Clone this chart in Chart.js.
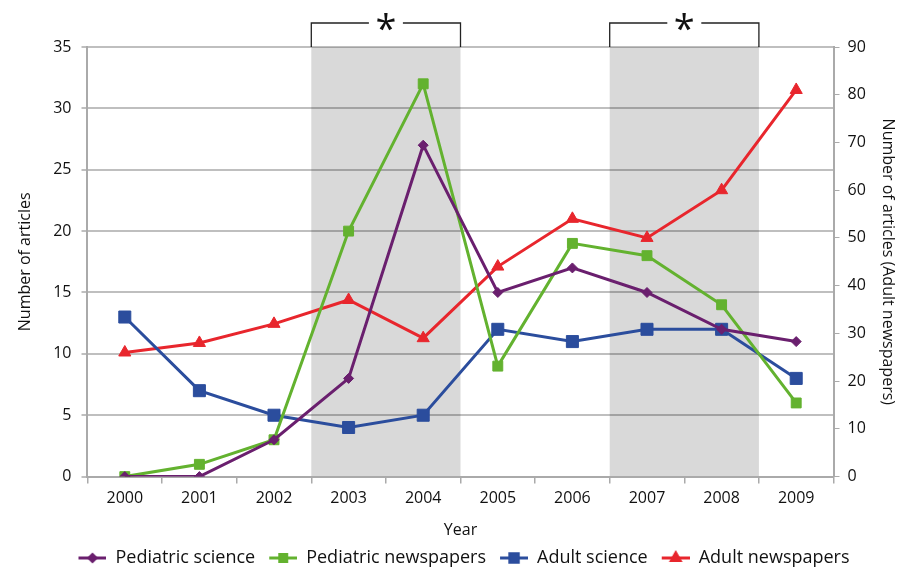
<!DOCTYPE html>
<html>
<head>
<meta charset="utf-8">
<script src="https://cdn.jsdelivr.net/npm/chart.js@4.4.0/dist/chart.umd.min.js"></script>
<style>
  body { margin: 0; background: #fff; }
  #wrap { width: 912px; height: 567px; }
</style>
</head>
<body>
<div id="wrap"><canvas id="myChart"></canvas></div>
<script>
const years = ["2000","2001","2002","2003","2004","2005","2006","2007","2008","2009"];
const pedScience = [0,0,3,8,27,15,17,15,12,11];
const pedNews = [0,1,3,20,32,9,19,18,14,6];
const adultScience = [13,7,5,4,5,12,11,12,12,8];
const adultNews = [26,28,32,37,29,44,54,50,60,81];
// shaded year ranges marked with *
const sigRanges = [["2003","2004"],["2007","2008"]];

const FONT = "'Open Sans', 'DejaVu Sans', sans-serif";

// legend icon: line with marker, some empty room on the left as spacing
const legendIcon = (color, style, r) => {
    const c = document.createElement("canvas");
    c.width = 39; c.height = 16;
    const ctx = c.getContext("2d");
    ctx.strokeStyle = color; ctx.fillStyle = color; ctx.lineWidth = 3;
    ctx.beginPath(); ctx.moveTo(11, 8); ctx.lineTo(39, 8); ctx.stroke();
    Chart.helpers.drawPoint(ctx, {pointStyle: style, radius: r, rotation: 0, borderWidth: 1}, 25, 8);
    ctx.fill();
    return c;
};

const shadePlugin = {
    id: "shade",
    beforeDraw(chart) {
        const {ctx, chartArea, scales: {x}} = chart;
        const half = (x.getPixelForValue(1) - x.getPixelForValue(0)) / 2;
        ctx.save();
        sigRanges.forEach(([a, b]) => {
            const x0 = x.getPixelForValue(years.indexOf(a)) - half;
            const x1 = x.getPixelForValue(years.indexOf(b)) + half;
            ctx.fillStyle = "#d9d9d9";
            ctx.fillRect(x0, chartArea.top, x1 - x0, chartArea.bottom - chartArea.top);
            // bracket above
            const top = chartArea.top - 24, mid = (x0 + x1) / 2;
            ctx.strokeStyle = "#222"; ctx.lineWidth = 1.3;
            ctx.beginPath();
            ctx.moveTo(x0, chartArea.top); ctx.lineTo(x0, top); ctx.lineTo(mid - 17, top);
            ctx.moveTo(mid + 17, top); ctx.lineTo(x1, top); ctx.lineTo(x1, chartArea.top);
            ctx.stroke();
            ctx.fillStyle = "#111";
            ctx.font = "38px " + FONT;
            ctx.textAlign = "center"; ctx.textBaseline = "middle";
            ctx.fillText("*", mid, top + 8);
        });
        ctx.restore();
    }
};

const series = [
    {label: "Pediatric science", data: pedScience, color: "#6a1f6e", style: "rectRot", r: 5, axis: "y"},
    {label: "Pediatric newspapers", data: pedNews, color: "#63b22f", style: "rect", r: 7, axis: "y"},
    {label: "Adult science", data: adultScience, color: "#2b4d9d", style: "rect", r: 8.5, axis: "y"},
    {label: "Adult newspapers", data: adultNews, color: "#e8262d", style: "triangle", r: 7, axis: "y2"}
];

new Chart("myChart", {
    type: "line",
    data: {
        labels: years,
        datasets: series.map(s => ({
            label: s.label,
            data: s.data,
            yAxisID: s.axis,
            borderColor: s.color,
            backgroundColor: s.color,
            borderWidth: 3,
            tension: 0,
            pointStyle: s.style,
            pointRadius: s.r,
            pointBorderWidth: 1,
            icon: legendIcon(s.color, s.style, s.r * 0.7)
        }))
    },
    options: {
        responsive: true,
        maintainAspectRatio: false,
        animation: false,
        layout: {padding: {top: 47, left: 12, right: 7, bottom: -10}},
        plugins: {
            tooltip: {enabled: false},
            legend: {
                position: "bottom",
                labels: {
                    usePointStyle: true,
                    pointStyleWidth: 39,
                    boxHeight: 16,
                    padding: 3,
                    color: "#111",
                    font: {family: FONT, size: 18},
                    generateLabels: chart => chart.data.datasets.map((d, i) => ({
                        text: d.label, pointStyle: d.icon, datasetIndex: i,
                        fillStyle: d.borderColor, strokeStyle: d.borderColor, lineWidth: 0, fontColor: "#111"
                    }))
                }
            }
        },
        scales: {
            x: {
                offset: true,
                grid: {drawOnChartArea: false, offset: true, tickLength: 7, color: "#aaa", lineWidth: 1.5},
                border: {color: "#aaa", width: 2},
                ticks: {color: "#111", font: {family: FONT, size: 16}, padding: 5},
                title: {display: true, text: "Year", color: "#111", font: {family: FONT, size: 16}, padding: {top: 8, bottom: 6}}
            },
            y: {
                position: "left",
                min: 0, max: 35,
                ticks: {stepSize: 5, color: "#111", font: {family: FONT, size: 16}, padding: 10},
                grid: {color: "rgba(0,0,0,0.25)", lineWidth: 2, tickLength: 6},
                border: {color: "#aaa", width: 2},
                title: {display: true, text: "Number of articles", color: "#111", font: {family: FONT, size: 16}, padding: {bottom: 8}}
            },
            y2: {
                position: "right",
                min: 0, max: 90,
                ticks: {stepSize: 10, color: "#111", font: {family: FONT, size: 16}, padding: 8},
                grid: {drawOnChartArea: false, tickLength: 6, color: "#aaa"},
                border: {color: "#aaa", width: 2},
                title: {display: true, text: "Number of articles (Adult newspapers)", color: "#111", font: {family: FONT, size: 16}, padding: {top: 8}}
            }
        }
    },
    plugins: [shadePlugin]
});
</script>
</body>
</html>
